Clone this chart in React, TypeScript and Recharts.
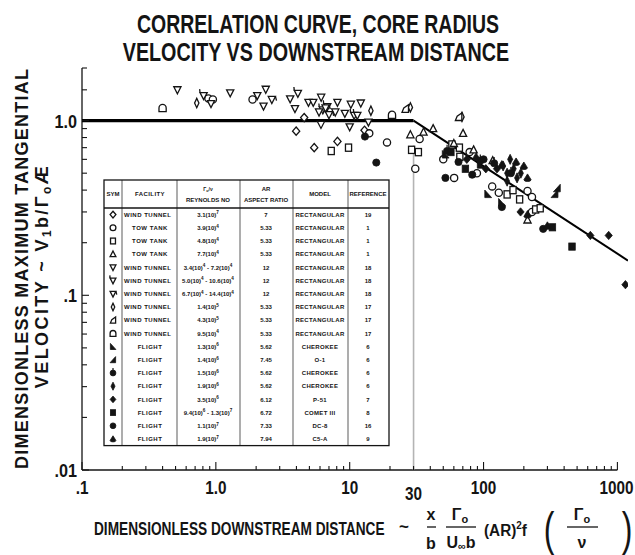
import React from "react";
import { ScatterChart, Scatter, XAxis, YAxis, ReferenceLine } from "recharts";

const FONT = "'Liberation Sans', Arial, sans-serif";
const INK = "#141414";

// correlation curve: flat at 1.0 out to x = 30, then falling off
const curveFlat = [
  { x: 0.1, y: 1 },
  { x: 30, y: 1 },
];
const curveFall = [
  { x: 30, y: 1 },
  { x: 1200, y: 0.158 },
];

// axis ticks
const xMajor = [0.1, 1, 10, 100, 1000];
const xLabels: Record<string, string> = { 0.1: ".1", 1: "1.0", 10: "10", 30: "30", 100: "100", 1000: "1000" };
const yMajor = [0.01, 0.1, 1];
const yLabels: Record<string, string> = { 0.01: ".01", 0.1: ".1", 1: "1.0" };
const minorSteps = [2, 3, 4, 5, 6, 7, 8, 9];
const xTicks = [
  ...xMajor,
  ...[0.1, 1, 10, 100].flatMap((d) => minorSteps.map((m) => +(d * m).toPrecision(3))),
];
const yTicks = [
  ...yMajor,
  ...[0.01, 0.1].flatMap((d) => minorSteps.map((m) => +(d * m).toPrecision(3))),
  1.5,
  2,
];

// measured points [x, y], one list per symbol
const ptsDiamond = [[3.98, 0.87], [5.43, 0.7], [8.1, 0.76], [4.57, 1.04], [12.9, 0.88]];
const ptsCircle = [
  [0.88, 1.34], [0.95, 1.32], [1.88, 1.32], [14.0, 0.845], [19.0, 0.75], [33.3, 0.785],
  [30.9, 0.53], [50.0, 0.6], [60.3, 0.47], [78.7, 0.66], [89.2, 0.5], [116, 0.42],
  [130, 0.386], [213, 0.395], [230, 0.365], [230, 0.3],
];
const ptsSquare = [
  [7.28, 0.67], [9.8, 0.7], [29.0, 0.68], [32.6, 0.66], [58.0, 0.73], [66.0, 0.7],
  [66.5, 0.62], [150, 0.378], [166, 0.4], [186, 0.354], [245, 0.31], [265, 0.315],
];
const ptsTri = [[28.4, 0.83], [35.6, 0.86], [60, 0.74], [70.3, 0.845], [84.3, 0.68], [117, 0.59], [213, 0.27], [42, 0.9]];
const ptsDownTri = [
  [0.516, 1.5], [0.92, 1.25], [1.28, 1.44], [2.04, 1.39], [2.36, 1.51], [2.27, 1.21],
  [3.59, 1.33], [3.9, 1.17], [4.92, 1.27], [5.34, 1.27], [6.12, 1.36], [6.1, 0.95],
  [8.1, 1.27], [10.2, 1.24], [12.1, 1.26], [7.8, 1.12], [9.2, 1.1], [10.0, 0.92], [13.8, 0.98],
];
const ptsFlagL = [[0.81, 1.39], [4.1, 1.43], [6.3, 1.15], [6.8, 1.2], [10.8, 1.07], [11.4, 1.07]];
const ptsFlagR = [[2.62, 1.32], [5.9, 1.12], [7.0, 1.08], [6.6, 1.18]];
const ptsThinDiamond = [[0.72, 1.26], [14.4, 1.14], [28.4, 1.19], [69, 1.05]];
const ptsQuad = [[26.0, 1.17], [65.1, 1.05]];
const ptsHouse = [[0.4, 1.18], [20.7, 1.08]];
const ptsRtriL = [[52, 0.64], [108, 0.38], [137, 0.34], [95, 0.56]];
const ptsRtriR = [[354, 0.41], [340, 0.38]];
const ptsCircTick = [[94.6, 0.59], [53.4, 0.67], [120, 0.57], [160, 0.5]];
const ptsFThin = [[140, 0.55], [150, 0.5], [158, 0.6], [168, 0.53], [178, 0.47], [190, 0.5], [150, 0.45]];
const ptsFDiamond = [[104, 0.53], [126, 0.53], [189, 0.3], [628, 0.22], [861, 0.22], [1148, 0.115], [75, 0.6]];
const ptsFSquare = [[73.2, 0.53], [327, 0.245], [458, 0.19], [57, 0.66]];
const ptsFCircle = [[51.9, 0.47], [82.3, 0.49], [15.8, 0.575], [279, 0.24], [13.0, 0.81], [137, 0.32], [100, 0.6], [65, 0.58]];
const ptsFTri = [[137, 0.56], [200, 0.55], [213, 0.47], [213, 0.29], [300, 0.25], [175, 0.58], [88, 0.62]];

// legend table rows
const symKinds = [
  "diamond", "circle", "square", "tri", "dtri", "dtriL", "dtriR", "thinDiamond", "quad", "house",
  "fRtriL", "fRtriR", "fCircTick", "fThinDiamond", "fDiamond", "fSquare", "fCircle", "fTri",
];
const pointSets = [
  ptsDiamond, ptsCircle, ptsSquare, ptsTri, ptsDownTri, ptsFlagL, ptsFlagR, ptsThinDiamond, ptsQuad, ptsHouse,
  ptsRtriL, ptsRtriR, ptsCircTick, ptsFThin, ptsFDiamond, ptsFSquare, ptsFCircle, ptsFTri,
];
const facilities = [
  "WIND TUNNEL", "TOW TANK", "TOW TANK", "TOW TANK", "WIND TUNNEL", "WIND TUNNEL", "WIND TUNNEL",
  "WIND TUNNEL", "WIND TUNNEL", "WIND TUNNEL", "FLIGHT", "FLIGHT", "FLIGHT", "FLIGHT", "FLIGHT",
  "FLIGHT", "FLIGHT", "FLIGHT",
];
const reynolds = [
  "3.1(10)^7", "3.9(10)^4", "4.8(10)^4", "7.7(10)^4", "3.4(10)^4 - 7.2(10)^4", "5.0(10)^4 - 10.6(10)^4",
  "6.7(10)^4 - 14.4(10)^4", "1.4(10)^5", "4.3(10)^5", "9.5(10)^4", "1.3(10)^6", "1.4(10)^6", "1.5(10)^6",
  "1.9(10)^6", "3.5(10)^6", "9.4(10)^6 - 1.3(10)^7", "1.1(10)^7", "1.9(10)^7",
];
const aspect = ["7", "5.33", "5.33", "5.33", "12", "12", "12", "5.33", "5.33", "5.33", "5.62", "7.45", "5.62", "5.62", "6.12", "6.72", "7.33", "7.94"];
const models = [
  "RECTANGULAR", "RECTANGULAR", "RECTANGULAR", "RECTANGULAR", "RECTANGULAR", "RECTANGULAR", "RECTANGULAR",
  "RECTANGULAR", "RECTANGULAR", "RECTANGULAR", "CHEROKEE", "O-1", "CHEROKEE", "CHEROKEE", "P-51",
  "COMET III", "DC-8", "C5-A",
];
const refs = ["19", "1", "1", "1", "18", "18", "18", "17", "17", "17", "6", "6", "6", "6", "7", "8", "16", "9"];

function Sym({ kind, cx, cy, s = 3.6 }: { kind: string; cx: number; cy: number; s?: number }) {
  const open = { fill: "#fff", stroke: INK, strokeWidth: 1.3 };
  const solid = { fill: INK, stroke: INK, strokeWidth: 0.8 };
  const pts = (a: number[][]) => a.map(([x, y]) => `${cx + x * s},${cy + y * s}`).join(" ");
  switch (kind) {
    case "diamond":
      return <polygon points={pts([[0, -1.15], [1, 0], [0, 1.15], [-1, 0]])} {...open} />;
    case "circle":
      return <circle cx={cx} cy={cy} r={s} {...open} />;
    case "square":
      return <rect x={cx - s * 0.85} y={cy - s} width={s * 1.7} height={s * 2} {...open} />;
    case "tri":
      return <polygon points={pts([[0, -1.1], [1, 0.85], [-1, 0.85]])} {...open} />;
    case "dtri":
      return <polygon points={pts([[-1, -0.85], [1, -0.85], [0, 1.1]])} {...open} />;
    case "dtriL":
      return (
        <g>
          <polygon points={pts([[-1, -0.85], [1, -0.85], [0, 1.1]])} {...open} />
          <polyline points={pts([[-1, -0.85], [-1.1, -1.8]])} {...open} fill="none" />
        </g>
      );
    case "dtriR":
      return (
        <g>
          <polygon points={pts([[-1, -0.85], [1, -0.85], [0, 1.1]])} {...open} />
          <polyline points={pts([[1, -0.85], [1.3, 0.3]])} {...open} fill="none" />
        </g>
      );
    case "thinDiamond":
      return <polygon points={pts([[0, -1.3], [0.6, 0], [0, 1.3], [-0.6, 0]])} {...open} />;
    case "quad":
      return <polygon points={pts([[0.9, -1.1], [0.9, 1], [-0.9, 1], [-0.4, -0.2]])} {...open} />;
    case "house":
      return (
        <path
          d={`M${cx - s},${cy + s} L${cx - s},${cy} A${s},${s} 0 0 1 ${cx + s},${cy} L${cx + s},${cy + s} Z`}
          {...open}
        />
      );
    case "fRtriL":
      return <polygon points={pts([[-0.9, -1.1], [-0.9, 1], [1, 1]])} {...solid} />;
    case "fRtriR":
      return <polygon points={pts([[0.9, -1.1], [0.9, 1], [-1, 1]])} {...solid} />;
    case "fCircTick":
      return (
        <g>
          <circle cx={cx} cy={cy} r={s} {...solid} />
          <line x1={cx} x2={cx} y1={cy - s} y2={cy - s * 1.7} stroke={INK} strokeWidth={1.2} />
        </g>
      );
    case "fThinDiamond":
      return <polygon points={pts([[0, -1.4], [0.7, 0], [0, 1.4], [-0.7, 0]])} {...solid} />;
    case "fDiamond":
      return <polygon points={pts([[0, -1.15], [1, 0], [0, 1.15], [-1, 0]])} {...solid} />;
    case "fSquare":
      return <rect x={cx - s * 0.9} y={cy - s} width={s * 1.8} height={s * 2} {...solid} />;
    case "fCircle":
      return <circle cx={cx} cy={cy} r={s} {...solid} />;
    case "fTri":
      return (
        <path
          d={`M${cx},${cy - s * 1.1} L${cx + s},${cy + s * 0.5} Q${cx + s},${cy + s} ${cx},${cy + s} Q${cx - s},${cy + s} ${cx - s},${cy + s * 0.5} Z`}
          {...solid}
        />
      );
    default:
      return <g />;
  }
}

function XTick(props: any) {
  const { x, y, payload } = props;
  const v = payload.value;
  const major = xMajor.includes(v);
  const lab = xLabels[String(v)];
  const tx = v === 1000 ? x - 1 : x;
  return (
    <g>
      <line x1={x} x2={x} y1={y} y2={y - (major ? 8 : 4)} stroke={INK} strokeWidth={1.1} />
      {lab && (
        <text
          transform={`translate(${tx},${y + (v === 30 ? 30 : 24)}) scale(0.85,1)`}
          textAnchor="middle"
          fontFamily={FONT}
          fontWeight="bold"
          fontSize={18}
          fill={INK}
        >
          {lab}
        </text>
      )}
    </g>
  );
}

function YTick(props: any) {
  const { x, y, payload } = props;
  const v = payload.value;
  const major = yMajor.includes(v);
  const lab = yLabels[String(v)];
  return (
    <g>
      <line x1={x} x2={x + (major ? 7 : 5)} y1={y} y2={y} stroke={INK} strokeWidth={1.1} />
      {lab && (
        <text
          transform={`translate(${x - 5},${y + 7}) scale(0.9,1)`}
          textAnchor="end"
          fontFamily={FONT}
          fontWeight="bold"
          fontSize={18}
          fill={INK}
        >
          {lab}
        </text>
      )}
    </g>
  );
}

// "3.4(10)^4 - 7.2(10)^4" -> text with raised exponents
function Reyn({ s }: { s: string }) {
  const parts = s.split(/\^(\d+)/);
  return (
    <>
      {parts.map((p, i) =>
        i % 2 === 1 ? (
          <tspan key={i} dy={-2.5} fontSize={4.6}>
            {p}
          </tspan>
        ) : (
          <tspan key={i} dy={i === 0 ? 0 : 2.5}>
            {p}
          </tspan>
        )
      )}
    </>
  );
}

const TBL = { left: 104, right: 389, top: 180, head: 208, rowH: 13.2 };
const TBL_COLS = [122, 177, 240, 293, 348];

function Table() {
  const centers = [113, 150, 208, 266, 320, 368];
  const bottom = TBL.head + TBL.rowH * symKinds.length;
  const txt = { fontFamily: FONT, fontWeight: "bold" as const, fontSize: 6, fill: INK, textAnchor: "middle" as const };
  return (
    <g>
      <rect x={TBL.left} y={TBL.top} width={TBL.right - TBL.left} height={bottom - TBL.top} fill="#fff" stroke={INK} strokeWidth={1.3} />
      <line x1={TBL.left} x2={TBL.right} y1={TBL.head} y2={TBL.head} stroke={INK} strokeWidth={1.6} />
      {TBL_COLS.map((c) => (
        <line key={c} x1={c} x2={c} y1={TBL.top} y2={bottom} stroke={INK} strokeWidth={0.7} />
      ))}
      <text x={centers[0]} y={196} {...txt}>SYM</text>
      <text x={centers[1]} y={196} {...txt} letterSpacing={0.4}>FACILITY</text>
      <text x={centers[2]} y={191} {...txt} fontSize={5}>Γ<tspan fontSize={3.6} dy={1}>o</tspan><tspan dy={-1}>/ν</tspan></text>
      <text x={centers[2]} y={202} {...txt}>REYNOLDS NO</text>
      <text x={centers[3]} y={191} {...txt}>AR</text>
      <text x={centers[3]} y={202} {...txt}>ASPECT RATIO</text>
      <text x={centers[4]} y={196} {...txt}>MODEL</text>
      <text x={centers[5]} y={196} {...txt}>REFERENCE</text>
      {symKinds.map((k, i) => {
        const cy = TBL.head + TBL.rowH * (i + 0.5);
        const ty = cy + 2.2;
        const wind = facilities[i] === "WIND TUNNEL";
        return (
          <g key={k}>
            <Sym kind={k} cx={centers[0]} cy={cy} s={2.9} />
            {wind ? (
              <text x={124} y={ty} {...txt} textAnchor="start" letterSpacing={0.5}>{facilities[i]}</text>
            ) : (
              <text x={centers[1]} y={ty} {...txt} letterSpacing={0.5}>{facilities[i]}</text>
            )}
            <text x={centers[2]} y={ty} {...txt}><Reyn s={reynolds[i]} /></text>
            <text x={centers[3]} y={ty} {...txt}>{aspect[i]}</text>
            <text x={centers[4]} y={ty} {...txt} letterSpacing={0.3}>{models[i]}</text>
            <text x={centers[5]} y={ty} {...txt}>{refs[i]}</text>
          </g>
        );
      })}
    </g>
  );
}

function Overlay() {
  const bold = { fontFamily: FONT, fontWeight: "bold" as const, fill: INK };
  return (
    <svg width={635} height={555} style={{ position: "absolute", left: 0, top: 0, pointerEvents: "none" }}>
      <text transform="translate(318,33) scale(0.75,1)" textAnchor="middle" fontSize={26} {...bold}>
        CORRELATION CURVE, CORE RADIUS
      </text>
      <text transform="translate(316,61) scale(0.76,1)" textAnchor="middle" fontSize={26} {...bold}>
        VELOCITY VS DOWNSTREAM DISTANCE
      </text>

      <text transform="translate(28,269) rotate(-90)" textAnchor="middle" fontSize={18} textLength={400} lengthAdjust="spacing" {...bold}>
        DIMENSIONLESS MAXIMUM TANGENTIAL
      </text>
      <text transform="translate(48,276) rotate(-90)" textAnchor="middle" fontSize={18} letterSpacing={2.4} {...bold}>
        VELOCITY ~ V<tspan dy={3} fontSize={12}>1</tspan>
        <tspan dy={-3}>b/Γ</tspan>
        <tspan dy={3} fontSize={12}>o</tspan>
        <tspan dy={-3}>Æ</tspan>
      </text>

      <Table />

      <text transform="translate(94,535) scale(0.76,1)" fontSize={18} {...bold}>
        DIMENSIONLESS DOWNSTREAM DISTANCE
      </text>
      <text x={404} y={532} textAnchor="middle" fontSize={17} {...bold}>~</text>
      <text x={431} y={520} textAnchor="middle" fontSize={16} {...bold}>x</text>
      <line x1={427} x2={436} y1={527} y2={527} stroke={INK} strokeWidth={1.3} />
      <text x={431} y={549} textAnchor="middle" fontSize={16} {...bold}>b</text>
      <text x={460} y={520} textAnchor="middle" fontSize={16} {...bold}>
        Γ<tspan dy={3} fontSize={11}>o</tspan>
      </text>
      <line x1={446} x2={476} y1={527} y2={527} stroke={INK} strokeWidth={1.3} />
      <text x={461} y={548} textAnchor="middle" fontSize={16} {...bold}>
        U<tspan dy={2} fontSize={11}>∞</tspan>
        <tspan dy={-2}>b</tspan>
      </text>
      <text transform="translate(484,536) scale(0.9,1)" fontSize={17} {...bold}>
        (AR)<tspan dy={-7} fontSize={11}>2</tspan>
        <tspan dy={7}>f</tspan>
      </text>
      <text transform="translate(549,545) scale(1,1.42)" textAnchor="middle" fontSize={32} fontFamily={FONT} fill={INK}>(</text>
      <text x={582} y={520} textAnchor="middle" fontSize={16} {...bold}>
        Γ<tspan dy={3} fontSize={11}>o</tspan>
      </text>
      <line x1={567} x2={598} y1={527} y2={527} stroke={INK} strokeWidth={1.3} />
      <text x={582} y={548} textAnchor="middle" fontSize={16} {...bold}>ν</text>
      <text transform="translate(627,545) scale(1,1.42)" textAnchor="middle" fontSize={32} fontFamily={FONT} fill={INK}>)</text>
    </svg>
  );
}

export default function App() {
  return (
    <div style={{ position: "relative", width: 635, height: 555, background: "#fff", overflow: "hidden" }}>
      <style>{"html, body { margin: 0; padding: 0; overflow: hidden; }"}</style>
      <ScatterChart width={635} height={555} margin={{ top: 68, right: 7, left: 0, bottom: 0 }}>
        <XAxis
          dataKey="x"
          type="number"
          scale="log"
          domain={[0.1, 1200]}
          allowDataOverflow
          ticks={xTicks}
          interval={0}
          height={85}
          axisLine={false}
          tickLine={false}
          tickSize={0}
          tickMargin={0}
          tick={(p: any) => <XTick {...p} />}
        />
        <YAxis
          dataKey="y"
          type="number"
          scale="log"
          domain={[0.01, 2]}
          allowDataOverflow
          ticks={yTicks}
          interval={0}
          width={82}
          axisLine={{ stroke: INK, strokeWidth: 1.3 }}
          tickLine={false}
          tickSize={0}
          tickMargin={0}
          tick={(p: any) => <YTick {...p} />}
        />
        <ReferenceLine
          segment={[{ x: 0.1, y: 0.01 }, { x: 1000, y: 0.01 }]}
          stroke={INK}
          strokeWidth={1.3}
        />
        <ReferenceLine
          segment={[{ x: 30, y: 0.01 }, { x: 30, y: 0.72 }]}
          stroke="#b4b4b4"
          strokeWidth={1.6}
        />
        <Scatter data={curveFlat} line={{ stroke: "#000", strokeWidth: 3.2 }} shape={() => <g />} isAnimationActive={false} />
        <Scatter data={curveFall} line={{ stroke: "#000", strokeWidth: 2 }} shape={() => <g />} isAnimationActive={false} />
        {pointSets.map((set, i) => (
          <Scatter
            key={symKinds[i]}
            data={set.map(([x, y]) => ({ x, y }))}
            isAnimationActive={false}
            shape={(p: any) => <Sym kind={symKinds[i]} cx={p.cx} cy={p.cy} />}
          />
        ))}
      </ScatterChart>
      <Overlay />
    </div>
  );
}
